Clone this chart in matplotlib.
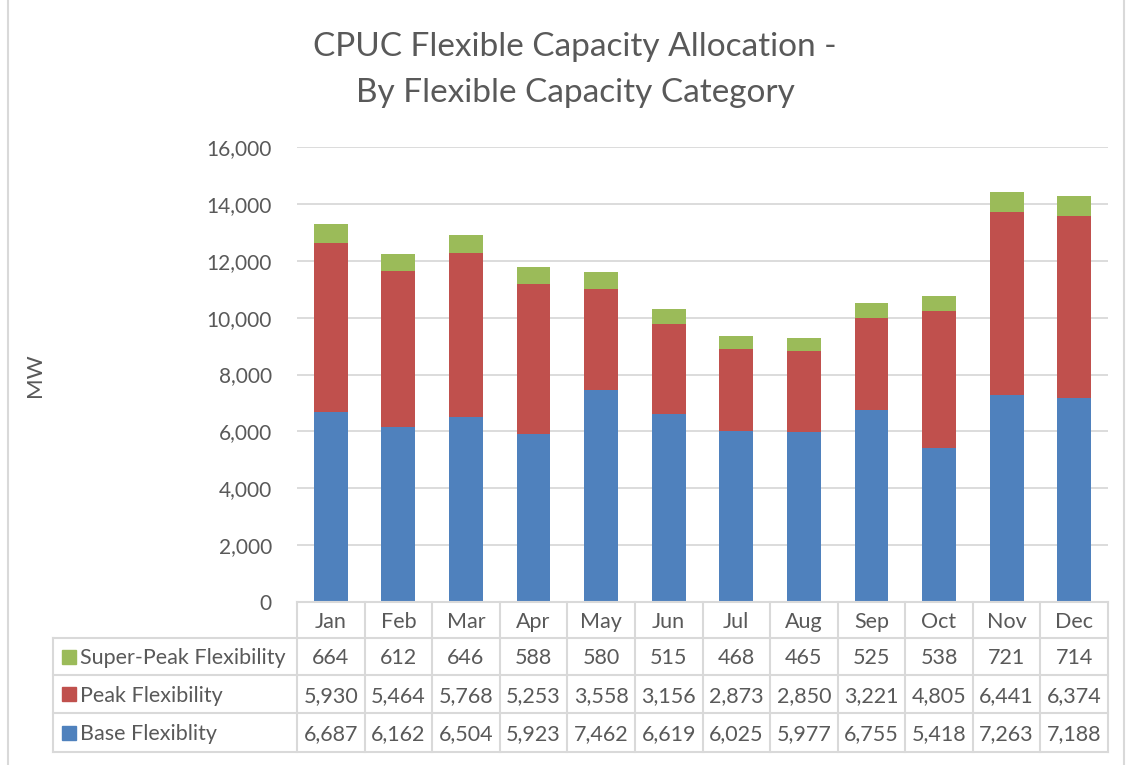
import matplotlib
matplotlib.use("Agg")
import matplotlib.pyplot as plt
from matplotlib.lines import Line2D
from matplotlib.patches import Rectangle
import numpy as np

months = ["Jan", "Feb", "Mar", "Apr", "May", "Jun", "Jul", "Aug", "Sep", "Oct", "Nov", "Dec"]
base = [6687, 6162, 6504, 5923, 7462, 6619, 6025, 5977, 6755, 5418, 7263, 7188]
peak = [5930, 5464, 5768, 5253, 3558, 3156, 2873, 2850, 3221, 4805, 6441, 6374]
super_peak = [664, 612, 646, 588, 580, 515, 468, 465, 525, 538, 721, 714]
series_names = ["Super-Peak Flexibility", "Peak Flexibility", "Base Flexiblity"]
yticks = [0, 2000, 4000, 6000, 8000, 10000, 12000, 14000, 16000]

C_BASE = "#4F81BD"
C_PEAK = "#C0504D"
C_SUPER = "#9BBB59"
TXT = "#595959"
GRID = "#D9D9D9"
FONT = ["Lato", "DejaVu Sans"]

W, H = 1132, 765
fig = plt.figure(figsize=(W / 100, H / 100), dpi=100)
plt.rcParams["font.family"] = FONT

def fx(x):
    return x / W

def fy(y):
    return 1 - y / H

L, R, T, B = 297, 1108, 147, 602
ax = fig.add_axes([fx(L), fy(B), fx(R) - fx(L), fy(T) - fy(B)])
x = np.arange(len(months))
bw = 0.5
ax.bar(x, base, bw, color=C_BASE, zorder=3)
ax.bar(x, peak, bw, bottom=base, color=C_PEAK, zorder=3)
ax.bar(x, super_peak, bw, bottom=np.array(base) + np.array(peak), color=C_SUPER, zorder=3)
ax.set_xlim(-0.5, len(months) - 0.5)
ax.set_ylim(0, 16000)
ax.set_yticks(yticks)
ax.set_yticklabels([f"{v:,}" for v in yticks], fontsize=15, color=TXT)
ax.tick_params(axis="y", length=0, pad=18)
ax.set_xticks([])
ax.grid(axis="y", color=GRID, linewidth=1.3, zorder=0)
for s in ax.spines.values():
    s.set_visible(False)

fig.text(fx(35), fy(375), "MW", rotation=90, ha="center", va="center", fontsize=16, color=TXT)
fig.text(fx(575), fy(47), "CPUC Flexible Capacity Allocation -", ha="center", va="center", fontsize=24, color=TXT)
fig.text(fx(575), fy(93), "By Flexible Capacity Category", ha="center", va="center", fontsize=24, color=TXT)

# data table
LBL_L = 53
rows_y = [602, 638, 675, 713, 752]
colw = (R - L) / len(months)
DY = 2

def hline(y, x0, x1):
    fig.add_artist(Line2D([fx(x0), fx(x1)], [fy(y), fy(y)], color=GRID, linewidth=1.5))

def vline(xp, y0, y1):
    fig.add_artist(Line2D([fx(xp), fx(xp)], [fy(y0), fy(y1)], color=GRID, linewidth=1.5))

hline(rows_y[0], L, R)
for yy in rows_y[1:]:
    hline(yy, LBL_L, R)
vline(LBL_L, rows_y[1], rows_y[-1])
for i in range(len(months) + 1):
    vline(L + i * colw, rows_y[0], rows_y[-1])

for i, m in enumerate(months):
    cx = L + (i + 0.5) * colw
    fig.text(fx(cx), fy((rows_y[0] + rows_y[1]) / 2 + DY), m, ha="center", va="center", fontsize=15.5, color=TXT)

table_rows = [(series_names[0], super_peak, C_SUPER),
              (series_names[1], peak, C_PEAK),
              (series_names[2], base, C_BASE)]
for r, (name, vals, col) in enumerate(table_rows):
    cy = (rows_y[r + 1] + rows_y[r + 2]) / 2
    fig.add_artist(Rectangle((fx(62), fy(cy + 7)), fx(14), fy(0) - fy(14), color=col, transform=fig.transFigure))
    fig.text(fx(80), fy(cy + DY), name, ha="left", va="center", fontsize=15.5, color=TXT)
    for i, v in enumerate(vals):
        cx = L + (i + 0.5) * colw
        fig.text(fx(cx), fy(cy + DY), f"{v:,}", ha="center", va="center", fontsize=15.5, color=TXT)

# chart border
vline(8, 0, 765)
vline(1124, 0, 765)

fig.savefig("out.png", dpi=100)
